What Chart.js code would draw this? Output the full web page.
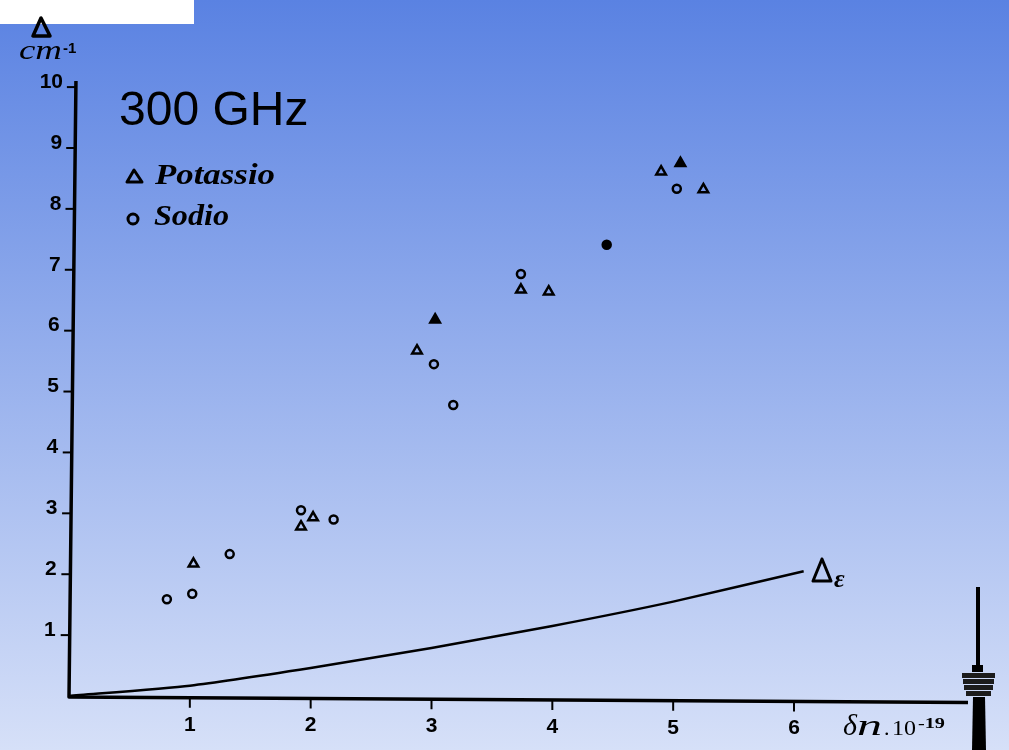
<!DOCTYPE html>
<html>
<head>
<meta charset="utf-8">
<title>300 GHz</title>
<script src="https://cdn.jsdelivr.net/npm/chart.js@4"></script>
<style>
    html, body { margin: 0; padding: 0; }
    body { width: 1009px; height: 750px; overflow: hidden; background: linear-gradient(#5a82e2, #d6e0f8); }
    #wrap { position: relative; width: 1009px; height: 750px; }
</style>
</head>
<body>
<div id="wrap"><canvas id="chart" width="1009" height="750"></canvas></div>
<script>
const xTicks = [1, 2, 3, 4, 5, 6];
const yTicks = [1, 2, 3, 4, 5, 6, 7, 8, 9, 10];

const potassioX = [1.03, 1.92, 2.02, 2.88, 3.03, 3.74, 3.97, 4.90, 5.06, 5.25];
const potassioY = [2.17, 2.78, 2.93, 5.67, 6.18, 6.67, 6.64, 8.61, 8.75, 8.32];
const potassioSolid = [4, 8];

const sodioX = [0.81, 1.02, 1.33, 1.92, 2.19, 3.02, 3.18, 3.74, 4.45, 5.03];
const sodioY = [1.59, 1.68, 2.33, 3.05, 2.90, 5.45, 4.78, 6.93, 7.41, 8.33];
const sodioSolid = [8];

const deltaX = [0, 1, 2, 3, 4, 5, 6.08];
const deltaY = [0, 0.17, 0.46, 0.79, 1.15, 1.55, 2.05];

const toPoints = (xs, ys) => xs.map((x, i) => ({ x: x, y: ys[i] }));

// Text stretched to a given width, the scan's lettering is wider than the fonts we have
function fillWide(ctx, text, x, y, width) {
    const w = ctx.measureText(text).width;
    ctx.save();
    ctx.translate(x, y);
    ctx.scale(width / w, 1);
    ctx.fillText(text, 0, 0);
    ctx.restore();
}

function triangle(ctx, topX, topY, left, right, baseY) {
    ctx.beginPath();
    ctx.moveTo(topX, topY);
    ctx.lineTo(left, baseY);
    ctx.lineTo(right, baseY);
    ctx.closePath();
    ctx.stroke();
}

// White box, hand-drawn axes, captions and the tower that sit on top of the scan
const overlay = {
    id: 'overlay',
    beforeDraw(chart) {
        const ctx = chart.ctx;
        ctx.save();
        ctx.fillStyle = '#ffffff';
        ctx.fillRect(0, 0, 194, 24);
        ctx.restore();
    },
    afterDraw(chart) {
        const ctx = chart.ctx;
        const xScale = chart.scales.x;
        const yScale = chart.scales.y;
        ctx.save();
        ctx.fillStyle = '#000';
        ctx.strokeStyle = '#000';
        ctx.textBaseline = 'alphabetic';
        ctx.lineJoin = 'round';

        // axes lean a little in the scan
        const bottom = yScale.getPixelForValue(0);
        const left = xScale.getPixelForValue(0);
        const yAxisX = y => left + (bottom - y) * 0.0113;
        const xAxisY = x => bottom + 1 + (x - left) * 0.0062;

        ctx.lineWidth = 3.5;
        ctx.beginPath();
        ctx.moveTo(yAxisX(81), 81);
        ctx.lineTo(yAxisX(bottom), bottom + 1);
        ctx.lineTo(968, xAxisY(968));
        ctx.stroke();

        ctx.lineWidth = 2;
        ctx.font = 'bold 21px "Liberation Sans"';
        ctx.textAlign = 'right';
        ctx.textBaseline = 'middle';
        yTicks.forEach(v => {
            const y = yScale.getPixelForValue(v);
            const x = yAxisX(y);
            ctx.beginPath();
            ctx.moveTo(x - 9, y);
            ctx.lineTo(x, y);
            ctx.stroke();
            ctx.fillText(String(v), 55 + v * 0.8, y - 5);
        });
        ctx.textAlign = 'center';
        xTicks.forEach(v => {
            const x = xScale.getPixelForValue(v);
            const y = xAxisY(x);
            ctx.beginPath();
            ctx.moveTo(x, y);
            ctx.lineTo(x, y + 10);
            ctx.stroke();
            ctx.fillText(String(v), x, y + 27);
        });
        ctx.textAlign = 'left';
        ctx.textBaseline = 'alphabetic';

        ctx.font = '48px "Liberation Sans"';
        ctx.fillText('300 GHz', 119, 125);

        // legend
        ctx.font = 'italic bold 30px "Liberation Serif"';
        fillWide(ctx, 'Potassio', 155, 184, 120);
        fillWide(ctx, 'Sodio', 154, 225, 75);
        ctx.lineWidth = 3;
        triangle(ctx, 134, 170, 127, 142, 182);
        ctx.beginPath();
        ctx.arc(133, 219, 5, 0, Math.PI * 2);
        ctx.stroke();

        // y axis title
        ctx.lineWidth = 3.5;
        triangle(ctx, 41, 18, 33, 50, 36);
        ctx.font = 'italic 28px "Liberation Serif"';
        fillWide(ctx, 'cm', 19, 59, 43);
        ctx.font = 'bold 15px "Liberation Sans"';
        ctx.fillText('-1', 63, 53);

        // x axis title
        ctx.font = 'italic 30px "Liberation Serif"';
        ctx.fillText('δ', 843, 735);
        fillWide(ctx, 'n', 857, 735, 25);
        ctx.font = '22px "Liberation Serif"';
        ctx.fillText('.', 884, 735);
        fillWide(ctx, '10', 892, 735, 24);
        ctx.font = 'bold 15px "Liberation Serif"';
        fillWide(ctx, '-19', 918, 728, 27);

        // curve label
        ctx.lineWidth = 3;
        triangle(ctx, 822, 559, 813, 831, 581);
        ctx.font = 'italic bold 26px "Liberation Serif"';
        ctx.fillText('ε', 834, 587);

        // tower
        ctx.fillRect(976, 587, 4, 80);
        ctx.fillRect(972, 665, 11, 7);
        ctx.fillStyle = '#1c1c1c';
        [[962, 995, 673], [963, 994, 679], [964, 993, 685], [966, 991, 691]].forEach(r => {
            ctx.fillRect(r[0], r[2], r[1] - r[0], 5);
        });
        ctx.fillStyle = '#000';
        ctx.beginPath();
        ctx.moveTo(973, 697);
        ctx.lineTo(985, 697);
        ctx.lineTo(986, 750);
        ctx.lineTo(972, 750);
        ctx.closePath();
        ctx.fill();
        ctx.restore();
    }
};

new Chart(document.getElementById('chart').getContext('2d'), {
    type: 'scatter',
    data: {
        datasets: [
            {
                label: 'Potassio',
                data: toPoints(potassioX, potassioY),
                pointStyle: 'triangle',
                pointRadius: 5.5,
                pointBorderWidth: 2.5,
                pointBorderColor: '#000',
                pointBackgroundColor: c => potassioSolid.includes(c.dataIndex) ? '#000' : 'rgba(0,0,0,0)'
            },
            {
                label: 'Sodio',
                data: toPoints(sodioX, sodioY),
                pointStyle: 'circle',
                pointRadius: 4,
                pointBorderWidth: 2.5,
                pointBorderColor: '#000',
                pointBackgroundColor: c => sodioSolid.includes(c.dataIndex) ? '#000' : 'rgba(0,0,0,0)'
            },
            {
                label: 'Delta epsilon',
                type: 'line',
                data: toPoints(deltaX, deltaY),
                borderColor: '#000',
                borderWidth: 2.5,
                pointRadius: 0,
                tension: 0.2,
                clip: false
            }
        ]
    },
    options: {
        responsive: false,
        animation: false,
        layout: { padding: { top: 81, right: 41, left: 69, bottom: 54 } },
        plugins: { legend: { display: false }, tooltip: { enabled: false } },
        scales: {
            x: { type: 'linear', display: false, min: 0, max: 7.44 },
            y: { type: 'linear', display: false, min: 0, max: 10.1 }
        }
    },
    plugins: [overlay]
});
</script>
</body>
</html>
